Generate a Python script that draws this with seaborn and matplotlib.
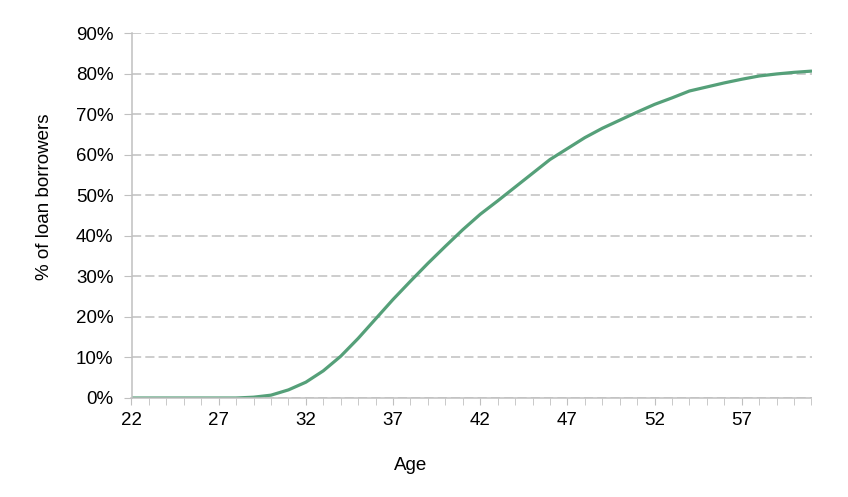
import numpy as np
import pandas as pd
import matplotlib
matplotlib.use("Agg")
import matplotlib.pyplot as plt
import seaborn as sns
from matplotlib.ticker import MultipleLocator, FuncFormatter

# Share of loan borrowers (%) by age
ages = list(range(22, 62))
share = [0, 0, 0, 0, 0, 0, 0, 0.2, 0.7, 2.0,
         3.9, 6.7, 10.3, 14.7, 19.5, 24.3, 28.8, 33.2, 37.4, 41.5,
         45.3, 48.6, 52.0, 55.4, 58.8, 61.5, 64.2, 66.5, 68.5, 70.5,
         72.4, 74.0, 75.7, 76.7, 77.7, 78.6, 79.4, 79.9, 80.3, 80.6]

df = pd.DataFrame({"Age": ages, "Share": share})

sns.set_style("white")
plt.rcParams['font.family'] = ['Liberation Sans', 'DejaVu Sans']

W, H = 848, 497
fig = plt.figure(figsize=(W / 100, H / 100), dpi=100)
ax = fig.add_axes([131.5 / W, 1 - 398 / H, 680 / W, 365 / H])

sns.lineplot(data=df, x="Age", y="Share", color="#55a079", linewidth=2.3, ax=ax)

ax.set_xlim(22, 61)
ax.set_ylim(0, 90)
ax.xaxis.set_major_locator(MultipleLocator(5, offset=2))
ax.xaxis.set_minor_locator(MultipleLocator(1))
ax.yaxis.set_major_locator(MultipleLocator(10))
ax.yaxis.set_major_formatter(FuncFormatter(lambda v, p: f"{v:.0f}%"))

ax.grid(axis='y', linestyle=(0, (6, 2.7)), color='#c0c0c0', linewidth=1.1)
ax.grid(axis='x', visible=False)
for s in ['top', 'right']:
    ax.spines[s].set_visible(False)
for s in ['left', 'bottom']:
    ax.spines[s].set_color('#c0c0c0')
    ax.spines[s].set_linewidth(1.1)

ax.tick_params(axis='both', which='both', direction='out', color='#c0c0c0',
               labelsize=13.5, labelcolor='#000000')
ax.tick_params(axis='x', which='major', length=5, pad=5, bottom=True)
ax.tick_params(axis='x', which='minor', length=5, bottom=True)
ax.tick_params(axis='y', which='major', length=6, pad=7, left=True)

ax.set_xlabel("Age", fontsize=13.5, color='black')
ax.set_ylabel("% of loan borrowers", fontsize=13.5, color='black')
# label positions as in the reference (pixel centres converted to axes coords)
ax.xaxis.set_label_coords((411 - 131.5) / 680, (398 - 466) / 365)
ax.yaxis.set_label_coords((45 - 131.5) / 680, (398 - 197) / 365)
ax.xaxis.label.set_va('center')
ax.yaxis.label.set_va('center')

fig.savefig("out.png", dpi=100)
